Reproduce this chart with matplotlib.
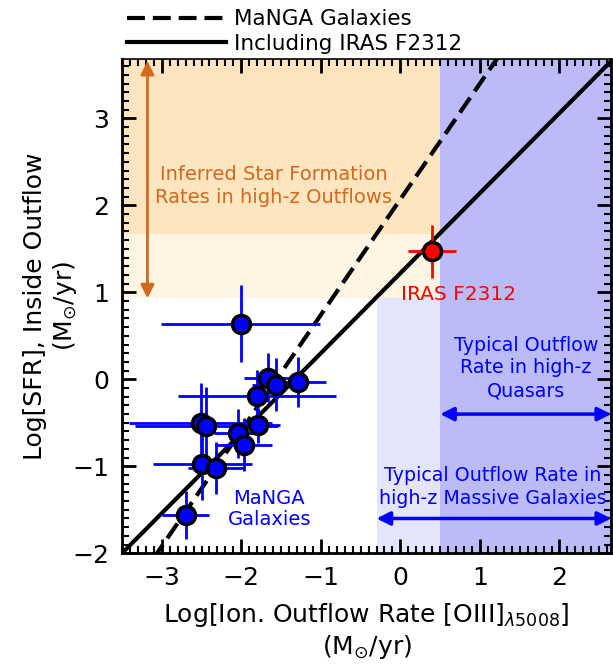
#!/usr/bin/env python3
"""SFR inside outflow vs ionised outflow rate, MaNGA + IRAS F2312."""

import numpy as np
import matplotlib
matplotlib.use('Agg')
import matplotlib.pyplot as plt
from matplotlib.ticker import MultipleLocator

plt.rcParams['font.family'] = 'DejaVu Sans'

# MaNGA galaxies (log outflow rate, log SFR) with symmetric errors
manga_x = [-2.01, -1.67, -1.57, -1.29, -1.80, -2.51, -2.44, -1.79, -2.04, -1.97, -2.49, -2.32, -2.70]
manga_y = [0.64, 0.02, -0.06, -0.03, -0.19, -0.50, -0.54, -0.53, -0.62, -0.75, -0.97, -1.02, -1.56]
manga_xerr = [1.00, 0.30, 0.30, 0.35, 0.99, 0.90, 0.90, 0.28, 0.30, 0.36, 0.62, 0.35, 0.30]
manga_yerr = [0.44, 0.28, 0.30, 0.29, 0.30, 0.46, 0.45, 0.20, 0.28, 0.30, 0.42, 0.30, 0.28]

# IRAS F2312
iras_x = [0.40]
iras_y = [1.47]
iras_xerr = [0.30]
iras_yerr = [0.30]

# linear fits (slope, intercept)
fit_manga = (1.33, 2.07)
fit_all = (0.92, 1.22)

# shaded ranges
sfr_highz_low, sfr_highz_mid = 0.93, 1.67
outflow_gal_low = -0.3
outflow_qso_low = 0.5

XLIM = (-3.5, 2.65)
YLIM = (-2.0, 3.68)

C_ORANGE = '#fde5bf'
C_ORANGE_LIGHT = '#fef4e3'
C_LAV = '#e4e4fa'
C_BLUE = '#bbbbf7'
C_ARROW = '#d2691e'

fig = plt.figure(figsize=(6.13, 6.65), dpi=100)
ax = fig.add_axes([0.199, 0.168, 0.798, 0.743])

# background regions
ax.fill_between([XLIM[0], outflow_qso_low], sfr_highz_mid, YLIM[1] + 1, color=C_ORANGE, lw=0, zorder=0)
ax.fill_between([XLIM[0], outflow_qso_low], sfr_highz_low, sfr_highz_mid, color=C_ORANGE_LIGHT, lw=0, zorder=0)
ax.fill_between([outflow_gal_low, outflow_qso_low], YLIM[0] - 1, sfr_highz_low, color=C_LAV, lw=0, zorder=0)
ax.fill_between([outflow_qso_low, XLIM[1] + 1], YLIM[0] - 1, YLIM[1] + 1, color=C_BLUE, lw=0, zorder=0)

# fits
xx = np.array([XLIM[0] - 1, XLIM[1] + 1])
ax.plot(xx, fit_manga[0] * xx + fit_manga[1], 'k--', lw=3, dashes=(4.3, 1.9), label='MaNGA Galaxies', zorder=3)
ax.plot(xx, fit_all[0] * xx + fit_all[1], 'k-', lw=3, label='Including IRAS F2312', zorder=3)

# data
ax.errorbar(manga_x, manga_y, xerr=manga_xerr, yerr=manga_yerr, fmt='o', color='blue',
            ecolor='blue', elinewidth=2, capsize=0, ms=13, mfc='blue', mec='black', mew=2.5, zorder=4)
ax.errorbar(iras_x, iras_y, xerr=iras_xerr, yerr=iras_yerr, fmt='o', color='red',
            ecolor='red', elinewidth=2, capsize=0, ms=13, mfc='red', mec='black', mew=2.5, zorder=4)

# arrows
ax.annotate('', xy=(-3.18, YLIM[1] - 0.02), xytext=(-3.18, sfr_highz_low),
            arrowprops=dict(arrowstyle='<|-|>', color=C_ARROW, lw=2, mutation_scale=20,
                            shrinkA=0, shrinkB=0), zorder=5)
ax.annotate('', xy=(outflow_qso_low, -0.40), xytext=(XLIM[1], -0.40),
            arrowprops=dict(arrowstyle='<|-|>', color='blue', lw=2.5, mutation_scale=20,
                            shrinkA=0, shrinkB=0), zorder=5)
ax.annotate('', xy=(outflow_gal_low, -1.60), xytext=(XLIM[1], -1.60),
            arrowprops=dict(arrowstyle='<|-|>', color='blue', lw=2.5, mutation_scale=20,
                            shrinkA=0, shrinkB=0), zorder=5)

# labels
ax.text(-1.59, 2.22, 'Inferred Star Formation\nRates in high-z Outflows', color=C_ARROW,
        fontsize=14, ha='center', va='center', linespacing=1.25)
ax.text(0.73, 0.98, 'IRAS F2312', color='red', fontsize=14.5, ha='center', va='center')
ax.text(-1.65, -1.49, 'MaNGA\nGalaxies', color='blue', fontsize=14, ha='center', va='center',
        linespacing=1.1)
ax.text(1.58, 0.13, 'Typical Outflow\nRate in high-z\nQuasars', color='blue', fontsize=13.7,
        ha='center', va='center', linespacing=1.25)
ax.text(1.16, -1.24, 'Typical Outflow Rate in\nhigh-z Massive Galaxies', color='blue', fontsize=13.7,
        ha='center', va='center', linespacing=1.25)

ax.set_xlim(XLIM)
ax.set_ylim(YLIM)
ax.xaxis.set_major_locator(MultipleLocator(1))
ax.yaxis.set_major_locator(MultipleLocator(1))
ax.xaxis.set_minor_locator(MultipleLocator(0.1))
ax.yaxis.set_minor_locator(MultipleLocator(0.1))
ax.tick_params(which='both', direction='in', top=True, right=True, labelsize=18, pad=9)
ax.tick_params(which='major', length=10, width=2)
ax.tick_params(which='minor', length=5, width=1.5)
for s in ax.spines.values():
    s.set_linewidth(2)
ax.spines['top'].set_linewidth(1.2)

ax.set_xlabel('Log[Ion. Outflow Rate [OIII]$_{\\lambda5008}$]\n(M$_{\\odot}$/yr)', fontsize=18,
              labelpad=8)
ax.set_ylabel('Log[SFR], Inside Outflow\n(M$_{\\odot}$/yr)', fontsize=18, labelpad=-5)

ax.legend(loc='lower left', bbox_to_anchor=(0.0, 1.0), frameon=False, fontsize=15.5,
          borderaxespad=0, borderpad=0.25, handlelength=4.6, handletextpad=0.35, labelspacing=0.22)

plt.savefig('out.png', dpi=100)
plt.close()
